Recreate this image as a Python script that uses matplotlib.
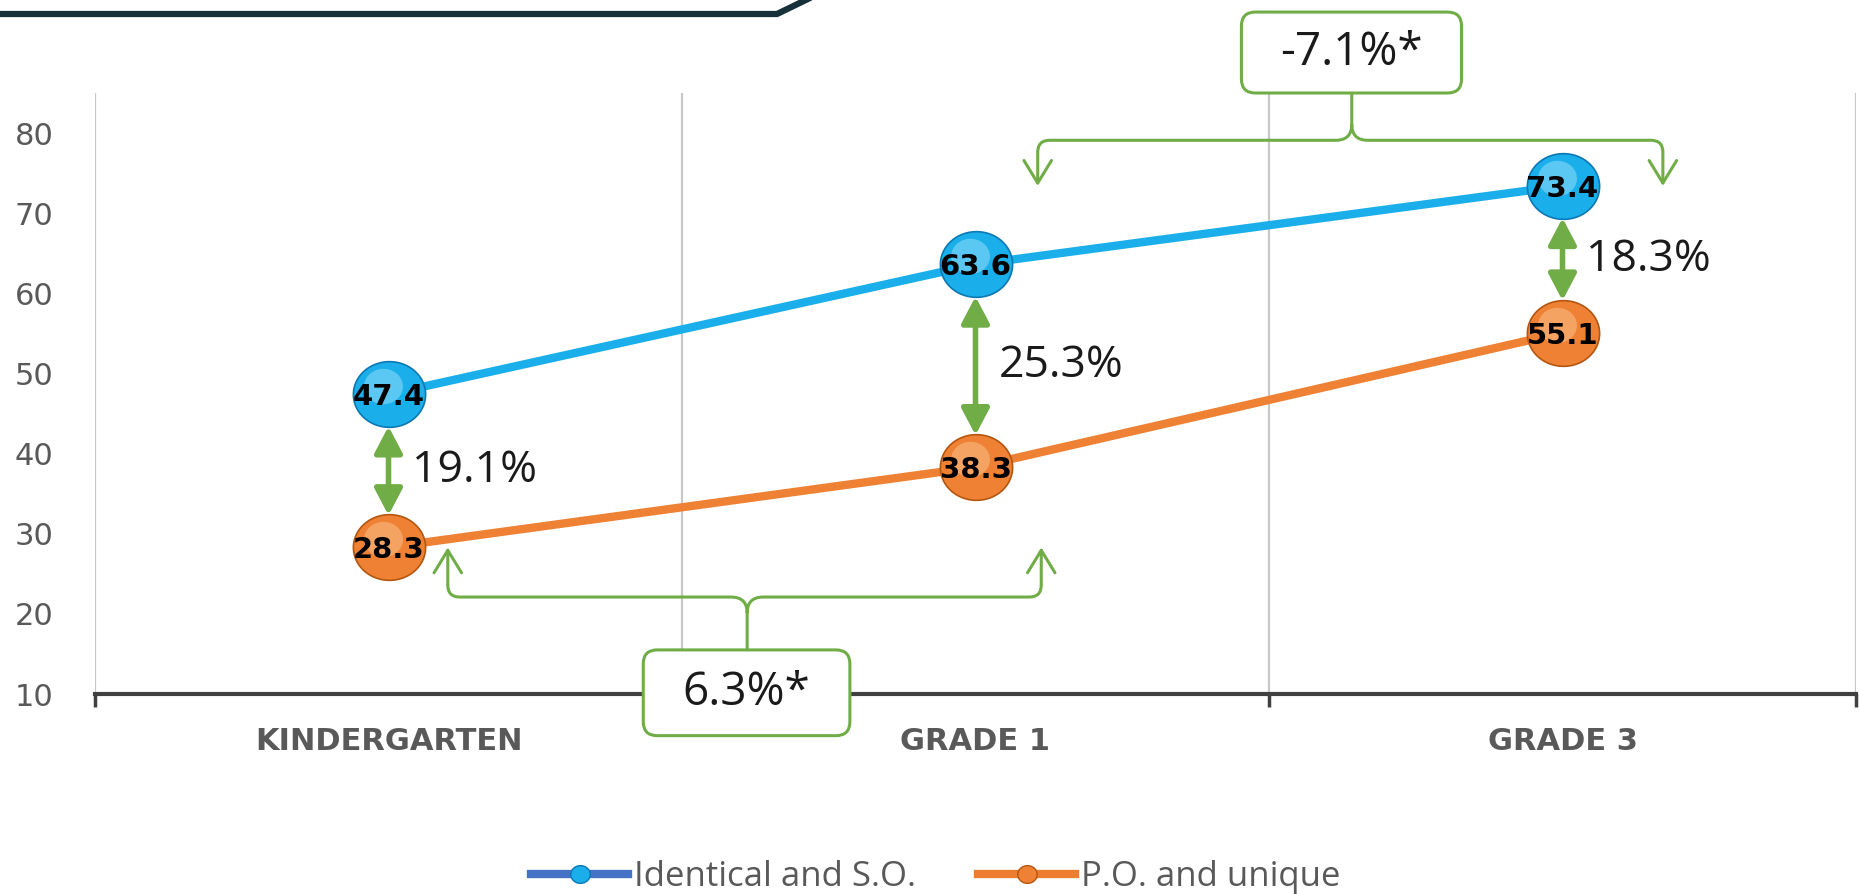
import numpy as np
import matplotlib
matplotlib.use("Agg")
import matplotlib.pyplot as plt
from matplotlib.path import Path
from matplotlib.patches import PathPatch, FancyBboxPatch, FancyArrowPatch
from matplotlib.transforms import IdentityTransform, offset_copy
from matplotlib.lines import Line2D
from matplotlib.markers import MarkerStyle

# ---------------- data ----------------
categories = ["KINDERGARTEN", "GRADE 1", "GRADE 3"]
identical_so = [47.4, 63.6, 73.4]
po_unique = [28.3, 38.3, 55.1]
series_names = ["Identical and S.O.", "P.O. and unique"]
gap_labels = ["19.1%", "25.3%", "18.3%"]
change_po_label = "6.3%*"        # P.O. and unique, KG -> Grade 1
change_id_label = "-7.1%*"       # Identical and S.O., Grade 1 -> Grade 3
yticks = [10, 20, 30, 40, 50, 60, 70, 80]

# ---------------- style ----------------
W, H, DPI = 1860, 894, 100
BLUE = "#1AAFEA"
BLUE_EDGE = "#0B78B3"
BLUE_HI = "#9BE2FB"
ORANGE = "#EE8133"
ORANGE_EDGE = "#B4560F"
ORANGE_HI = "#FBC593"
GREEN = "#70AD47"
GRAY_TXT = "#595959"
AXIS = "#404040"
GRID = "#C8C8C8"
ANN_FONT = ["Open Sans", "DejaVu Sans"]

fig = plt.figure(figsize=(W / DPI, H / DPI), dpi=DPI, facecolor="white")
ax = fig.add_axes([95 / W, 200 / H, (1856 - 95) / W, (801 - 200) / H])
x = np.arange(len(categories))
ax.set_xlim(-0.5, len(categories) - 0.5)
ax.set_ylim(10, 85)

# axes styling
for s in ["top", "right", "left"]:
    ax.spines[s].set_visible(False)
ax.spines["bottom"].set_color(AXIS)
ax.spines["bottom"].set_linewidth(3)
ax.spines["bottom"].set_zorder(2.5)

ax.set_xticks(np.arange(-0.5, len(categories)))
ax.set_xticklabels([])
ax.set_xticks(x, minor=True)
ax.set_xticklabels(categories, minor=True, fontweight="bold", color=GRAY_TXT,
                   fontsize=22, family="DejaVu Sans")
ax.tick_params(axis="x", which="major", direction="out", length=9, width=2.5, color=AXIS)
ax.tick_params(axis="x", which="minor", length=0, pad=24)
ax.xaxis.grid(True, which="major", color=GRID, lw=1.6)
ax.set_axisbelow(True)

ax.set_yticks(yticks)
ax.tick_params(axis="y", length=0, pad=30, labelsize=22, labelcolor=GRAY_TXT)

# ---------------- lines & markers ----------------
theta = np.linspace(0, 2 * np.pi, 120)
ell = MarkerStyle(Path(np.column_stack([1.1 * np.cos(theta), np.sin(theta)]), closed=True))
hi_tr = offset_copy(ax.transData, fig=fig, x=-6, y=8, units="dots")

for vals, col, edge, hi in [(identical_so, BLUE, BLUE_EDGE, BLUE_HI),
                            (po_unique, ORANGE, ORANGE_EDGE, ORANGE_HI)]:
    ax.plot(x, vals, color=col, lw=6, zorder=3, solid_capstyle="butt")
    ax.plot(x, vals, ls="none", marker=ell, markersize=52, markerfacecolor=col,
            markeredgecolor=edge, markeredgewidth=1.2, zorder=4)
    ax.plot(x, vals, ls="none", marker=ell, markersize=28, markerfacecolor=hi,
            markeredgewidth=0, alpha=0.5, zorder=4.5, transform=hi_tr)
    for xi, v in zip(x, vals):
        ax.text(xi, v, f"{v:.1f}", ha="center", va="center_baseline", fontsize=21,
                fontweight="bold", color="black", zorder=6, family="DejaVu Sans")

# ---------------- gap arrows ----------------
R_UNITS = 4.0
for xi, top, bot, lab in zip(x, identical_so, po_unique, gap_labels):
    ar = FancyArrowPatch((xi, top - R_UNITS), (xi, bot + R_UNITS),
                         arrowstyle="<|-|>,head_length=0.95,head_width=0.5",
                         mutation_scale=17, lw=4.0, color=GREEN, shrinkA=0, shrinkB=0,
                         zorder=5)
    ax.add_patch(ar)
    ax.text(xi + 0.04, (top + bot) / 2, lab, ha="left", va="center", fontsize=32,
            color="#1a1a1a", family=ANN_FONT, zorder=6)

# ---------------- braces with boxes ----------------
def draw_brace(xl, xr, xc, y_line, y_tip, y_stem):
    T = ax.transData.transform
    XL, YL = T((xl, y_line))
    XR, _ = T((xr, y_line))
    XC, _ = T((xc, y_line))
    _, YT = T((xl, y_tip))
    _, YS = T((xl, y_stem))
    d = np.sign(YT - YL)
    r, c = 12, 16
    verts = [(XL, YL + d * r), (XL, YL), (XL + r, YL), (XC - c, YL), (XC, YL),
             (XC, YL - d * c), (XC, YS), (XC, YL - d * c), (XC, YL), (XC + c, YL),
             (XR - r, YL), (XR, YL), (XR, YL + d * r)]
    codes = [Path.MOVETO, Path.CURVE3, Path.CURVE3, Path.LINETO, Path.CURVE3,
             Path.CURVE3, Path.LINETO, Path.MOVETO, Path.CURVE3, Path.CURVE3,
             Path.LINETO, Path.CURVE3, Path.CURVE3]
    ax.add_artist(PathPatch(Path(verts, codes), fill=False, ec=GREEN, lw=2.2,
                            transform=IdentityTransform(), clip_on=False, zorder=9))
    for X in (XL, XR):
        ax.add_artist(FancyArrowPatch((X, YL + d * r), (X, YT),
                                      arrowstyle="->,head_length=0.9,head_width=0.55",
                                      mutation_scale=18, lw=2.2, color=GREEN,
                                      shrinkA=0, shrinkB=0, transform=IdentityTransform(),
                                      clip_on=False, zorder=9))


def draw_box(x0, x1, y0, y1, label):
    T = ax.transData.transform
    X0, Y0 = T((x0, y0))
    X1, Y1 = T((x1, y1))
    ax.add_artist(FancyBboxPatch((min(X0, X1), min(Y0, Y1)), abs(X1 - X0), abs(Y1 - Y0),
                                 boxstyle="round,pad=0,rounding_size=14", fc="white",
                                 ec=GREEN, lw=2.2, transform=IdentityTransform(),
                                 clip_on=False, zorder=10))
    ax.text((x0 + x1) / 2, (y0 + y1) / 2, label, ha="center", va="center", fontsize=33,
            color="#1a1a1a", family=ANN_FONT, zorder=11, clip_on=False)


# Identical and S.O.: Grade 1 -> Grade 3 (top)
draw_brace(1.106, 2.171, 1.641, 79.1, 73.4, 85.0)
draw_box(1.453, 1.828, 85.0, 95.1, change_id_label)
# P.O. and unique: KG -> Grade 1 (bottom)
draw_brace(0.101, 1.112, 0.611, 22.1, 28.3, 15.5)
draw_box(0.434, 0.786, 15.5, 4.8, change_po_label)

# ---------------- top banner line ----------------
fig.add_artist(Line2D([0, 777 / W, 812 / W], [1 - 14 / H, 1 - 14 / H, 1 + 3 / H],
                      transform=fig.transFigure, color="#17313A", lw=4.5,
                      solid_joinstyle="miter"))

# ---------------- legend ----------------
handles = [
    Line2D([], [], color="#4472C4", lw=6, marker=ell, markersize=14,
           markerfacecolor=BLUE, markeredgecolor=BLUE_EDGE),
    Line2D([], [], color="#ED7D31", lw=6, marker=ell, markersize=14,
           markerfacecolor=ORANGE, markeredgecolor=ORANGE_EDGE),
]
leg = fig.legend(handles, series_names, loc="center", bbox_to_anchor=(0.503, 17 / H),
                 ncol=2, frameon=False, handlelength=2.8, handletextpad=0.15,
                 columnspacing=1.8, prop={"family": ANN_FONT, "size": 25},
                 borderpad=0.1)
for t in leg.get_texts():
    t.set_color(GRAY_TXT)

fig.savefig("out.png", dpi=DPI, facecolor="white")
